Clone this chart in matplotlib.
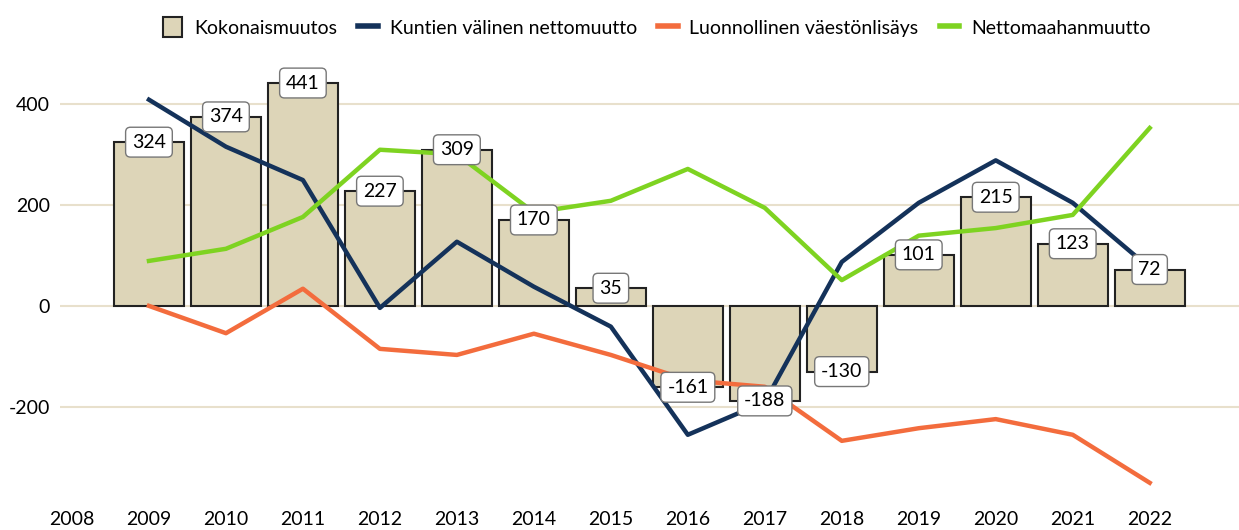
import numpy as np
import matplotlib
matplotlib.use("Agg")
import matplotlib.pyplot as plt
from matplotlib.patches import Patch
from matplotlib.lines import Line2D

plt.rcParams['font.family'] = ['Lato', 'DejaVu Sans']

years = ['2008', '2009', '2010', '2011', '2012', '2013', '2014', '2015',
         '2016', '2017', '2018', '2019', '2020', '2021', '2022']

# data from 2009 onwards (2008 slot is empty)
kokonaismuutos = [324, 374, 441, 227, 309, 170, 35, -161, -188, -130, 101, 215, 123, 72]
kuntien_valinen = [408, 315, 249, -4, 127, 38, -41, -255, -190, 87, 204, 288, 204, 75]
luonnollinen = [0, -54, 34, -85, -97, -55, -97, -147, -160, -267, -242, -224, -255, -350]
nettomaahanmuutto = [89, 113, 176, 309, 300, 185, 208, 271, 194, 51, 139, 154, 180, 352]

bar_color = '#ddd5b8'
navy = '#14325a'
orange = '#f36c3d'
green = '#7ed321'
grid_color = '#e8e0cc'

fig, ax = plt.subplots(figsize=(12.39, 5.30), dpi=100)
fig.subplots_adjust(left=0.0484, right=1.0, top=0.871, bottom=0.07)

x_all = np.arange(len(years))
x = x_all[1:]

ax.bar(x, kokonaismuutos, width=0.91, color=bar_color, edgecolor='#222222',
       linewidth=1.5, zorder=2)
ax.plot(x, kuntien_valinen, color=navy, linewidth=3.2, zorder=3)
ax.plot(x, luonnollinen, color=orange, linewidth=3.2, zorder=3)
ax.plot(x, nettomaahanmuutto, color=green, linewidth=3.2, zorder=3)

for xi, v in zip(x, kokonaismuutos):
    ax.text(xi, v, str(v), ha='center', va='center', fontsize=14, zorder=5,
            bbox=dict(boxstyle='round,pad=0.33,rounding_size=0.25', facecolor='white',
                      edgecolor='#777777', linewidth=1))

ax.set_xticks(x_all)
ax.set_xticklabels(years, fontsize=14)
ax.set_yticks([-200, 0, 200, 400])
ax.set_yticklabels(['-200', '0', '200', '400'], fontsize=14)
ax.tick_params(axis='x', length=0, pad=13)
ax.tick_params(axis='y', length=0, pad=7)
ax.set_xlim(-0.156, 15.16)
ax.set_ylim(-370, 470)
ax.grid(axis='y', color=grid_color, linewidth=1.5, zorder=0)
ax.set_axisbelow(True)
for s in ax.spines.values():
    s.set_visible(False)

handles = [
    Patch(facecolor=bar_color, edgecolor='#222222', linewidth=1.5, label='Kokonaismuutos'),
    Line2D([], [], color=navy, linewidth=4, label='Kuntien välinen nettomuutto'),
    Line2D([], [], color=orange, linewidth=4, label='Luonnollinen väestönlisäys'),
    Line2D([], [], color=green, linewidth=4, label='Nettomaahanmuutto'),
]
fig.legend(handles=handles, loc='upper center', bbox_to_anchor=(0.53, 1.0), ncol=4,
           frameon=False, fontsize=14, handlelength=1.0, handleheight=1.2,
           columnspacing=1.1, handletextpad=0.6)

fig.savefig('out.png', dpi=100)
